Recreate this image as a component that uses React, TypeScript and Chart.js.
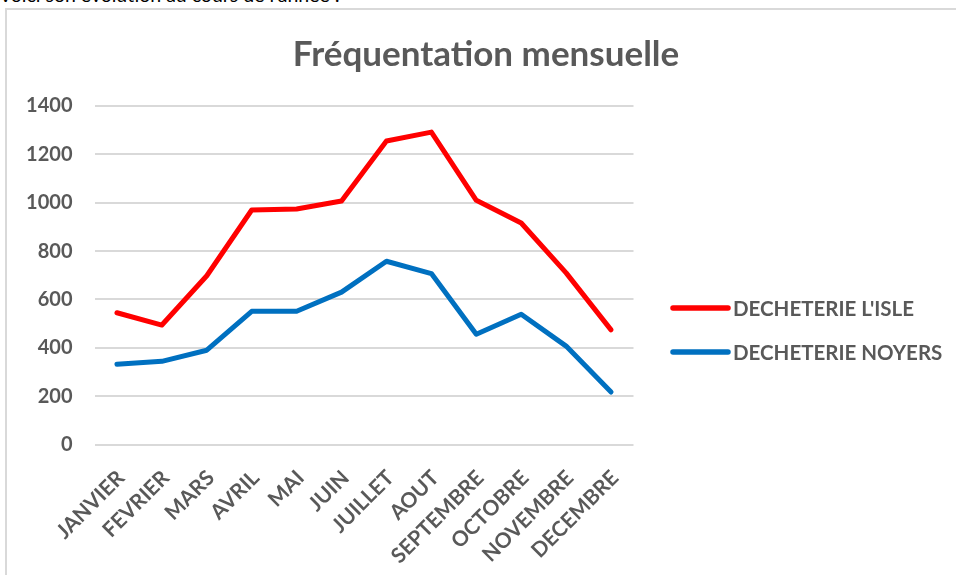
import { useEffect, useRef } from "react";
import { Chart, registerables } from "chart.js";

Chart.register(...registerables);

const introText = "Voici son évolution au cours de l'année :";
const chartTitle = "Fréquentation mensuelle";
const months = [
  "JANVIER",
  "FEVRIER",
  "MARS",
  "AVRIL",
  "MAI",
  "JUIN",
  "JUILLET",
  "AOUT",
  "SEPTEMBRE",
  "OCTOBRE",
  "NOVEMBRE",
  "DECEMBRE",
];
const seriesNames = ["DECHETERIE L'ISLE", "DECHETERIE NOYERS"];
const islValues = [545, 494, 698, 970, 974, 1007, 1255, 1292, 1010, 916, 710, 474];
const noyersValues = [332, 344, 390, 551, 551, 630, 758, 707, 456, 539, 407, 217];
const seriesColors = ["#FF0000", "#0070C0"];
const yMin = 0;
const yMax = 1400;
const yStep = 200;

const FONT = "Lato, 'DejaVu Sans', sans-serif";
const TEXT_GREY = "#595959";
const GRID_GREY = "#D9D9D9";

const sideLegend = {
  id: "sideLegend",
  afterDraw(chart: any) {
    const { ctx, chartArea } = chart;
    ctx.save();
    const x0 = chartArea.right + 39.5;
    const x1 = chartArea.right + 94.5;
    const tx = chartArea.right + 99.5;
    chart.data.datasets.forEach((ds: any, i: number) => {
      const y = 298 + i * 44;
      ctx.beginPath();
      ctx.strokeStyle = ds.borderColor;
      ctx.lineWidth = 5.5;
      ctx.lineCap = "round";
      ctx.moveTo(x0, y);
      ctx.lineTo(x1, y);
      ctx.stroke();
      ctx.fillStyle = TEXT_GREY;
      ctx.font = `bold 20.5px ${FONT}`;
      ctx.textAlign = "left";
      ctx.textBaseline = "middle";
      ctx.fillText(ds.label, tx, y + 1);
    });
    ctx.restore();
  },
};

export default function App() {
  const canvasRef = useRef<HTMLCanvasElement | null>(null);

  useEffect(() => {
    const canvas = canvasRef.current;
    if (!canvas) return;
    const chart = new Chart(canvas, {
      type: "line",
      data: {
        labels: months,
        datasets: [islValues, noyersValues].map((vals, i) => ({
          label: seriesNames[i],
          data: vals,
          borderColor: seriesColors[i],
          backgroundColor: seriesColors[i],
          borderWidth: 5,
          borderCapStyle: "round",
          borderJoinStyle: "round",
          pointRadius: 0,
          pointHoverRadius: 0,
          tension: 0,
          fill: false,
        })),
      },
      options: {
        responsive: false,
        animation: false,
        layout: { padding: { left: 4, right: 0, top: 0, bottom: 0 } },
        plugins: {
          legend: { display: false },
          tooltip: { enabled: false },
          title: {
            display: true,
            text: chartTitle,
            color: TEXT_GREY,
            font: { family: FONT, size: 35, weight: "bold" },
            padding: { top: 24, bottom: 30 },
          },
        },
        scales: {
          x: {
            offset: true,
            grid: { display: false, drawTicks: false },
            border: { display: false },
            ticks: {
              color: TEXT_GREY,
              font: { family: FONT, size: 21, weight: "bold" },
              maxRotation: 45,
              minRotation: 45,
              autoSkip: false,
              padding: 21,
              labelOffset: 4,
            },
            afterFit: (scale: any) => {
              scale.height = 130.5;
            },
          },
          y: {
            min: yMin,
            max: yMax,
            ticks: {
              stepSize: yStep,
              color: TEXT_GREY,
              font: { family: FONT, size: 20, weight: "bold" },
              padding: 22,
              callback: (value: any) => String(value),
            },
            grid: { color: GRID_GREY, lineWidth: 2, drawTicks: false },
            border: { display: false },
            afterFit: (scale: any) => {
              scale.width = 84.5;
            },
          },
          legendSpace: {
            type: "linear",
            position: "right",
            display: true,
            grid: { display: false, drawTicks: false },
            border: { display: false },
            ticks: { display: false },
            afterFit: (scale: any) => {
              scale.width = 328.5;
            },
          },
        },
      },
      plugins: [sideLegend],
    } as any);
    return () => chart.destroy();
  }, []);

  return (
    <div
      style={{
        position: "fixed",
        left: 0,
        top: 0,
        width: 956,
        height: 575,
        overflow: "hidden",
        background: "#ffffff",
      }}
    >
      <div
        style={{
          position: "absolute",
          left: -1,
          top: -15,
          fontFamily: FONT,
          fontSize: 19.5,
          lineHeight: "19.5px",
          color: "#000000",
          whiteSpace: "nowrap",
        }}
      >
        {introText}
      </div>
      <div
        style={{
          position: "absolute",
          left: 5,
          top: 8,
          width: 980,
          height: 620,
          border: `2px solid ${GRID_GREY}`,
          boxSizing: "border-box",
        }}
      />
      <canvas
        ref={canvasRef}
        width={956}
        height={565}
        style={{ position: "absolute", left: 6, top: 10, width: 956, height: 565 }}
      />
    </div>
  );
}
